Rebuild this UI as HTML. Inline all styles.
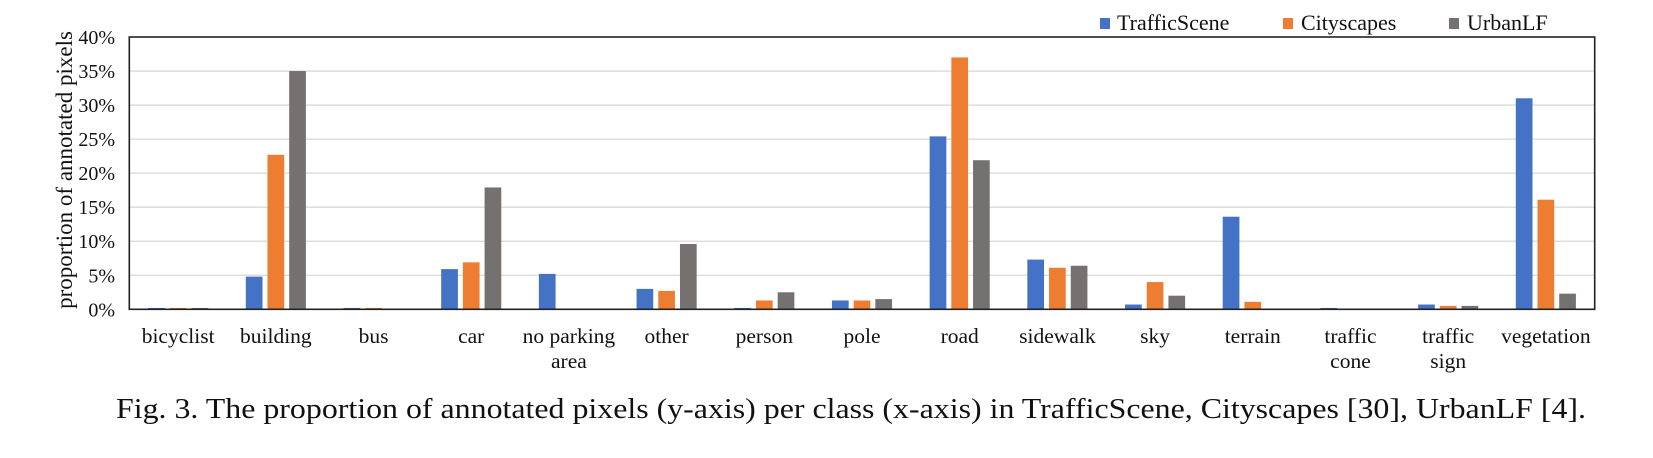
<!DOCTYPE html>
<html><head><meta charset="utf-8">
<style>
body{margin:0;background:#fff;}
svg{display:block;font-family:"Liberation Serif",serif;}
</style></head>
<body>
<svg id="chart" width="1653" height="458" viewBox="0 0 1653 458" xmlns="http://www.w3.org/2000/svg">
<g id="grid"></g>
<g id="bars"></g>
<rect x="129.3" y="37" width="1465.4" height="272.3" fill="none" stroke="#222" stroke-width="1.6"/>
<g id="yticks"></g>
<g id="xticks"></g>
<text transform="translate(72,170) rotate(-90)" text-anchor="middle" font-size="23" fill="#111">proportion of annotated pixels</text>
<g>
<g><rect x="1100" y="18" width="10" height="11" fill="#4472C4"/><text x="1117" y="30" font-size="22" fill="#111">TrafficScene</text></g>
<g><rect x="1283" y="18" width="10" height="11" fill="#ED7D31"/><text x="1301" y="30" font-size="22" fill="#111">Cityscapes</text></g>
<g><rect x="1449" y="18" width="10" height="11" fill="#767171"/><text x="1467" y="30" font-size="22" fill="#111">UrbanLF</text></g>
</g>
<text x="116" y="418" font-size="28.5" fill="#111" textLength="1470" lengthAdjust="spacingAndGlyphs">Fig. 3. The proportion of annotated pixels (y-axis) per class (x-axis) in TrafficScene, Cityscapes [30], UrbanLF [4].</text>
</svg>
<script>
const categories = [["bicyclist"],["building"],["bus"],["car"],["no parking","area"],["other"],["person"],["pole"],["road"],["sidewalk"],["sky"],["terrain"],["traffic","cone"],["traffic","sign"],["vegetation"]];
const trafficScene = [0.2,4.8,0.2,5.9,5.2,3.0,0.2,1.3,25.4,7.3,0.7,13.6,0.2,0.7,31.0];
const cityscapes = [0.2,22.7,0.2,6.9,0,2.7,1.3,1.3,37.0,6.1,4.0,1.1,0,0.5,16.1];
const urbanLF = [0.2,35.0,0,17.9,0,9.6,2.5,1.5,21.9,6.4,2.0,0,0,0.5,2.3];
const yTicks = [0,5,10,15,20,25,30,35,40];
const seriesNames = ["trafficscene","cityscapes","urbanlf"];
const NS="http://www.w3.org/2000/svg";
const L=129.3,R=1594.7,T=37,B=309.3,YMAX=40;
const y=v=>B-(v/YMAX)*(B-T);
const band=(R-L)/categories.length;
const xc=i=>L+band*(i+0.5);
const colors=["#4472C4","#ED7D31","#767171"];
const series=[trafficScene,cityscapes,urbanLF];
const mk=(t,a,p)=>{const e=document.createElementNS(NS,t);for(const k in a)e.setAttribute(k,a[k]);p.appendChild(e);return e;};
const grid=document.getElementById('grid'),yt=document.getElementById('yticks');
yTicks.forEach(v=>{
  if(v>0&&v<YMAX){const g=mk('line',{x1:L,x2:R,y1:y(v),y2:y(v),stroke:'#d9d9d9','stroke-width':1.3},grid);
  
  }
  const t=mk('text',{x:115,y:y(v)+7,'text-anchor':'end','font-size':20,fill:'#111'},yt);
  t.textContent=v+'%';
  
  
});
const bars=document.getElementById('bars'),xt=document.getElementById('xticks');
const bw=16.7,step=21.7;
categories.forEach((c,i)=>{
  series.forEach((s,k)=>{
    const v=s[i];
    const r=mk('rect',{x:xc(i)+(k-1)*step-bw/2,y:y(v),width:bw,height:B-y(v),fill:colors[k]},bars);
    
    
  });
  c.forEach((line,j)=>{
    const t=mk('text',{x:xc(i),y:343+j*25,'text-anchor':'middle','font-size':21.5,fill:'#111'},xt);
    t.textContent=line;
    
    
  });
});
</script>
</body></html>
